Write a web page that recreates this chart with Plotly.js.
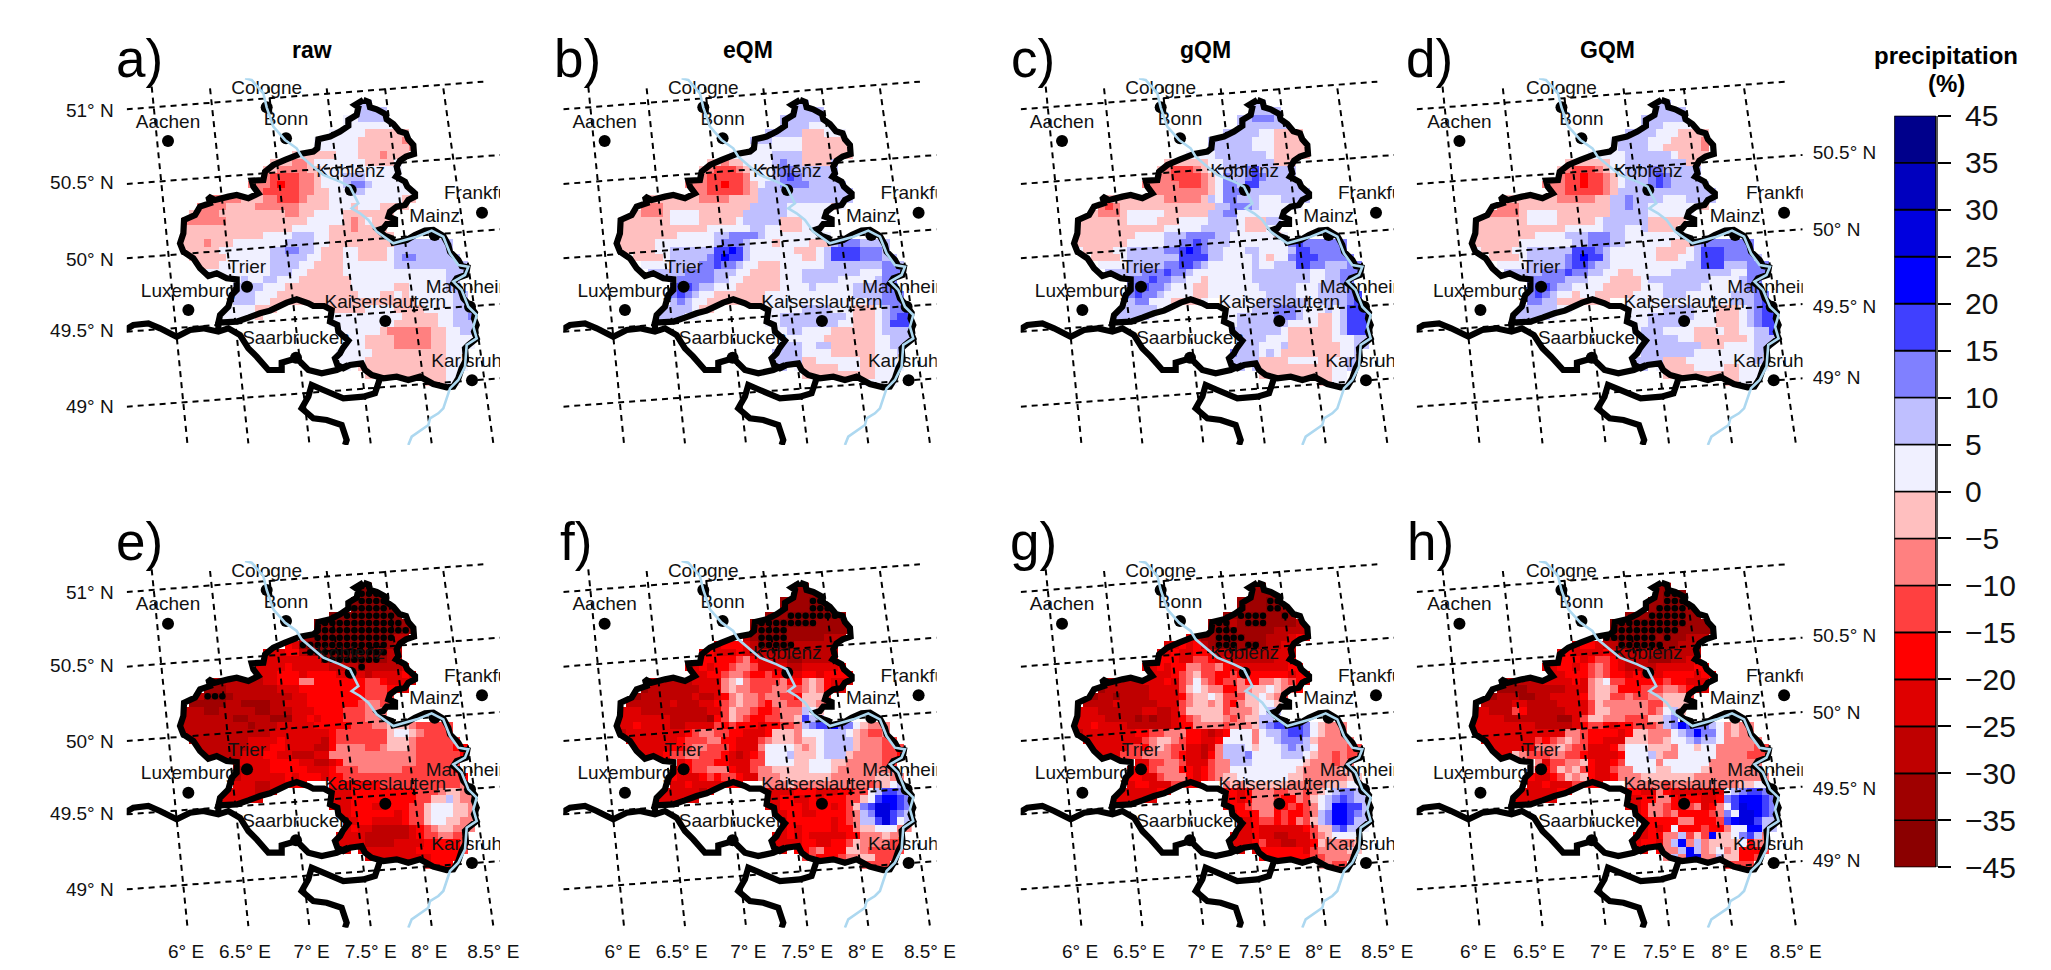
<!DOCTYPE html>
<html><head><meta charset="utf-8">
<script src="https://cdn.plot.ly/plotly-3.0.1.min.js"></script>
<style>html,body{margin:0;padding:0;background:#fff}</style></head>
<body><div id="chart" style="width:2051px;height:970px"></div>
<script>
// colour classes: change in precipitation (%)
const legendBreaks=[-45,-35,-30,-25,-20,-15,-10,-5,0,5,10,15,20,25,30,35,45];
const legendLabels=["−45","−35","−30","−25","−20","−15","−10","−5","0","5","10","15","20","25","30","35","45"];
const legendColors=["#8b0000","#9f0000","#bf0000","#df0000","#ff0000","#ff4040","#ff8080","#ffbfbf","#f0f0ff","#bfbfff","#8080ff","#4040ff","#0000ff","#0000df","#0000bf","#00008b"];
const classValues={t:-40,s:-32.5,r:-27.5,q:-22.5,p:-17.5,o:-12.5,n:-7.5,m:-2.5,a:2.5,b:7.5,c:12.5,d:17.5,e:22.5,f:27.5,g:32.5,h:40};
// class of each grid cell, upper case = significant (stippled)
const gridA=[
"..... ..... ..... ..... ....b bb","..... ..... ..... ..... ...bb bbb","..... ..... ..... ..... ..aab bbb","..... ..... ..... ..... .aaaa aaaa",
"..... ..... ..... ....a aaaaa mmmmm m","..... ..... ..... ...aa aaaam mmmmm nn","..... ..... ..... .aaaa aaaam mmmmm mn","..... ..... ....m mmmmm maaam mmnmm m",
"..... ..... ..mmm nnmaa aaaaa mmmma a","..... ..... .mmnn nnmma aaaaa aaaaa a","..... ....n nnooo onnma aabbb aaaaa a","..... ....n nnopo onnma aabcc baaaa aab",
"..... ..... noooo onnmm aaabb aaaaa aaa","....n nnnmm mnnoo onmmm aaaaa aaaaa mma","..nnn nmmmm nnnnn nmmmm aaama aammm mm",".mnnn mmmmm mmmmn nmmaa aammm mmmmm",
"nnnnn nmmmm mmmmm mmaaa aamnm ammmm","mmmmm mmmmm mmmmm aaaaa mmmnm mmmmm","mmmmm mmmmm maaaa bbbaa mmmmm mmmmm","mmmnm mmaaa aaaab bbbaa mmmmm mmmmb bbbbb bbb",
"mmmmm aaaaa aabbc cbbam mmaam mmmab bbbbb bbb",".mmmm maaaa aabbb bbaam mmaam mmmab ccbbb bbbb","..mmm aaaaa aabbb baamm mmaaa aaaab bbbbb bbbb","...aa aaaaa aabbb aammm mmaaa aaaaa aaaaa abbb",
"..... ..aba abbaa ammmm mmmaa aaaaa aaaaa abbb","..... ..bbb baaam mmmmm mmmaa aaaam maaaa abbbb","..... ..bbb aaamm mmmmm mmmma aamma maaaa aabbb","..... ..bbb aammm mmmmm mmmmm mmmmm mmaaa aabbb",
"..... .aaaa mmm.. ..... mmmmm aaaam mmmaa aabbb","..... aaaaa m.... ..... aaaaa aaaaa mmmmm aabbc","..... ....a ..... ..... aaaaa aaaam mmmmm aabbb","..... ..... ..... ..... .aaaa aamnn nnnnm maabb",
"..... ..... ..... ..... ..aaa mmmmn nnnnm maaaa","..... ..... ..... ..... ..aaa mmmmn nnnnm maaaa","..... ..... ..... ..... .aaaa ammmm mmmmm maaaa","..... ..... ..... ..... .aaaa mmmmm mmmmm maaaa",
"..... ..... ..... ..... .aaam mmmmm mmmmm maaa","..... ..... ..... ..... ..... mmmmm mmmmm maa","..... ..... ..... ..... ..... ..mmm mmmmm maa"];
const gridB=[
"..... ..... ..... ..... ....b bb","..... ..... ..... ..... ...bb bbb","..... ..... ..... ..... ..bbb bbbb","..... ..... ..... ..... .bbbb baaa",
"..... ..... ..... ....b bbbbb mmmaa a","..... ..... ..... ...bb baaaa mmmmm m","..... ..... ..... .bbaa aaaaa mmmmm mm","..... ..... ....a aaaaa abbbb mmmmm mm",
"..... ..... ..mmn mmaaa abcbb mmmmb b","..... ..... .mnoo onmaa abccb bbbbb b","..... ....n nnooo oonaa abcdc bbbbb bb","..... ....n nnoop oonma bbccc cbbbb bbb",
"..... ..... nnooo oonmb bbbbb bbbbb bbb","....m mmmmm mnnnn mmmmb bbbbb bbbbb bb","...nn nmmmm mmmmm mmmbb bbbaa aaaam a","..mnn nmaaa ammmm mmbbb bbbaa aaaaa",
"mmmmm mmaaa ammmm mabbb bbmmm aaaaa","mmmmm mmmmm mmaaa aaabb aammm aaaaa","mmmmm mmmaa aaabb ccccb aaaaa aaaaa","mmmmm aaaaa aaabc ccbaa amaaa ammmb cccbb bb",
"mmmmm aabbb bbbdd edbaa aaaam mmabd dddcc cbb","..mmm mabbb bbcde ddbaa aaaaa mmabd dddcc cbb","...aa aabbb bccdc cbaam mmaaa aaabb bbbbb bccb","....b bbbbc cccbb baamm mmaaa bbbbb bbbaa accc",
"..... ..bcc cccbb aammm mmaaa bbbbb aaaaa bccc","..... ..cdd cbbaa ammmm mmaaa abaaa aabbb bccc","..... ..cdc baamm mmmmm aaaaa aaaaa aabbb bcccd","..... ..bcb aammm mmmmm aaaaa aaaaa aaaab bcccd",
"..... .bbbb amm.. ..... aaaaa bbbba aammm abccd","..... bbbba a.... ..... aabbb bbbbb bammm abcdd","..... ....a ..... ..... aabbb bbbbb aammm abddd","..... ..... ..... ..... .aabb aaaam mmmmm abbbb",
"..... ..... ..... ..... ..aaa aaamm mmmmm aabbb","..... ..... ..... ..... ..bbb aabbm mmmmm aabb","..... ..... ..... ..... .bbbb aaaam mmmmm aaab","..... ..... ..... ..... .bbbb mmaaa aaamm aaaa",
"..... ..... ..... ..... .bbaa mmmmm aaamm aaaa","..... ..... ..... ..... ..... mmmmm mmmmm aaaa","..... ..... ..... ..... ..... ..mmm aaaaa aaa"];
const gridC=[
"..... ..... ..... ..... ....b bb","..... ..... ..... ..... ...bb bbb","..... ..... ..... ..... ..bbc ccbb","..... ..... ..... ..... .bbbb bbbb",
"..... ..... ..... ....b bbbbb aammm m","..... ..... ..... ...bb bbbba aammm mm","..... ..... ..... .aabb bbbba aammm mm","..... ..... ....a aaaab bbbbb bammm mm",
"..... ..... ..mmm mmmaa bbbbb bbmmm a","..... ..... .mnoo onmaa bbbcd bbbbb b","..... ....m nnnoo oonma cbbcd cbbbb b","..... ....n nnnno oonma ccbdd bbbbb bb",
"..... ..... nnnnn nnnma cccbb bbbbb bbb","....m mmmmm mmnnn nnmba ccbbb aaabb bb","...no nmmmm mmmmm mmmmb bcccb aaaaa aa","..mnn nmaaa aammm mmmbb ccaaa aaaaa",
"mmmmm mmaaa ammma aaabb bbamm mbbaa","mmmmm mmmmm mmaaa aabbb bbamm maaaa","mmmmm mmmaa aabbb ccccb baaaa aamaa","mmmmm mmaaa aabbc cdcbb baaaa aaaac dcccc cc",
"ammmm aabbb bbccd edcbb aaabb aaaab ddccc cccb","..mmm mabbb bbbbd dddbb aaaab amaac dddcc cccb","...aa aabbb bbccd dcbaa aaaab aabbb ddccb bbccc","....b bbbbc ccdcc baaaa aaaab bbbbb bbaab bccc",
"..... ..ccc dccbb aamaa aaaab bbbbb bbaab bccc","..... ..cdd ccbaa ammaa aaaaa bbbbb aaabb bbccd","..... ..cdc cbaaa ammaa aaaaa abbbb aaabb bbcdd","..... ..bcc aaamm mma.. aaaaa bbbbb bbabb bbcdd",
"..... .bbbb baa.. ..... aaaab bbccc baaab abddd","..... bbbbb a.... ..... aabbb bbccc baamm abddd","..... ....b ..... ..... .abbb bbbba aaamm abddd","..... ..... ..... ..... .bbbb bbbam mmmmm abddd",
"..... ..... ..... ..... ..bbb baaam mmmmm aaabb","..... ..... ..... ..... ..bbb aaabm mmmmm maabb","..... ..... ..... ..... .cbbb abamm mmmmm maab","..... ..... ..... ..... .bbbb mmmma aaamm aabb",
"..... ..... ..... ..... .bbbb mmmmm mmmmm aab","..... ..... ..... ..... ..... mmmmm mmmmm aa","..... ..... ..... ..... ..... ..mmm mmmmm aa"];
const gridD=[
"..... ..... ..... ..... ....b b","..... ..... ..... ..... ...bb bbb","..... ..... ..... ..... ..bbb bbbb","..... ..... ..... ..... .bbbb aaaa",
"..... ..... ..... ....b bbbba aammm m","..... ..... ..... ...ab bbbaa ammmm n","..... ..... ..... .aaab bbbaa mmmmm n","..... ..... ..... aaaaa bbbbb bammm m",
"..... ..... ..mmm mmmaa bbbbb bbbmm m","..... ..... .mnoo onmaa bbbcc bbbbb b","..... ....n nnoop oonma bbbcd cbbbb b","..... ....n nnoop oonma bbbcd cbbbb bb",
"..... ..... nnooo oonmb bbbbb bbbbb bbb","....m mmmmm mnnnn nmmbb cbbbb aaabb bb","...nn nmmmm mmmmm mmmbb cbbaa aaaaa mm","..nnn nmaaa ammmm mmmbb bbbaa aaaa",
"mmmmm mmaaa ammmm mabbb bbbmm mmm","mmmmm mmmmm mmaaa aabbb aabmm mm","mmmmm mmmaa aabbb cccbb aaaaa aaa","mmmmm maaaa aaabb cccbb aaaaa ammmb ccccc cc",
"ammmm aabbb bbbdd dcbaa aaaam mmmab dddcc ccb","..mmm mabbb bbcde ddbaa aaaam mmaab dddcc ccb","...aa aabbb bbcdd cbbaa aaaaa aaabb dddbb bccc","....b bbbbc ccdcc bbaam maaaa abbbb bbbba accc",
"..... ..ccc ccbbb aaamm mmabb bbbbb baaaa bccc","..... ..cdd cbbaa aammm mmaaa bbbbb aaaaa bccc","..... ..cdc baama ammmm maaaa bbbaa aaaab bbccd","..... ..ccb bmmmm mmm.. aaaaa aaaaa aaaab bbcdd",
"..... .bbbb baa.. ..... aaaaa bbbba aammm abcdd","..... bbbbb a.... ..... aaabb bbbba aammm abcdd","..... ....b ..... ..... .aabb bbbaa aammm abcdd","..... ..... ..... ..... .abbb aaaam mmamm aabbd",
"..... ..... ..... ..... ..bbb bbaam mmmmm mabbb","..... ..... ..... ..... ..bbb bbbbb mmmaa aabb","..... ..... ..... ..... .abbb bbbba aaaaa aabb","..... ..... ..... ..... .bbbb mmmaa aaaaa aabb",
"..... ..... ..... ..... .bbaa mmmma aaamm aaaa","..... ..... ..... ..... ..... mmmmm mmmmm aaa","..... ..... ..... ..... ..... ..mmm mmmmm aa"];
const gridE=[
"..... ..... ..... ..... ....T TT","..... ..... ..... ..... ....T TT","..... ..... ..... ..... ...tT TTTt","..... ..... ..... ..... ...TT TTTt",
"..... ..... ..... ....t ttTTT TTTTt","..... ..... ..... ...TT TTTTT TTTTT s","..... ..... ..... ...TT TTTTT TTTTT Ts","..... ..... ..... .ssTT TTTTT TTTTr r",
"..... ..... ....p qTTTT TTTTT TTTsr","..... ..... .qqqp prTTT TTTTT TTTrr","..... ....q qqqqq qqqqT TTTTT TSsrr","..... ..... qqqqp qqqqq rrrrT rrrrr qqp",
"..... ..... qqqpp pqppp pqqqq rqqqq pqq","....r rrrrr rqqpp pnnpp ppppp oopqq qq","...ss srrrr rrrqq qpppp ppppp ooopp qq","..rTT Tsrrr rrrrr qqppp ppppp oooop",
".ssss srrss ssrrq qqppp ppppo nnooo","rrrss rrrrr ssrrr qqqpp ppooo nnn","rrrrr rrssr rrsss qqpqp ppooo nnn","rrrrr rrrrs rrrqq qqqpp pppoo onnmm mnooo ooo",
"rrrrr rrrrr rrqqq qqqqq poooo oooma amnoo ooo",".rrrr rrrrq qqqpq qqqqr poooo ooomm mnooo ooo","..rrr rrrrq qqppq qqqrr pnnnn oonmm mnooo oopp","...rr rrrqq qppqq rrrqq nnnnn nnnnn nnooo ooop",
"..... ..qqq qqppp pqqrr qpnnn nnnnn nnooo ooop","..... ..rqq qqppp ppqqq pooon nnnnn ooooo oop","..... ..rqq qqqqp qpppq ppooo ooooo ooooo ooop","..... ..qqq rrqqp pp... ppppp ppooo ooooo ooon",
"..... .qqqq rrq.. ..... qqqpp ppppp ppooo nmmnn","..... qqqqq q.... ..... qqqpp ppppp ppoom mbmnn","..... ....q ..... ..... qqqpp pqqpp pooma aammn","..... ..... ..... ..... .qqpp ppppq pooma aammn",
"..... ..... ..... ..... ..qqp pqqqq pooma ammnn","..... ..... ..... ..... ..qpq qrrrr rqpon mmnnn","..... ..... ..... ..... .qqqq rrrrr rqpoo nnoo","..... ..... ..... ..... .qqqq rrrrq qqqpp pppo",
"..... ..... ..... ..... .qqqq qqqqq qqppp pppo","..... ..... ..... ..... ..... qqqqq qqqqp ppp","..... ..... ..... ..... ..... ..qqq qqqqp pp"];
const gridF=[
"..... ..... ..... ..... ....s ss","..... ..... ..... ..... ...ss ss","..... ..... ..... ..... ..sss sTTs","..... ..... ..... ..... .ssss sTTTs",
"..... ..... ..... ..... sssTT TTTTT s","..... ..... ..... ...sT TTTTT TTsss ss","..... ..... ..... ...sT TTTss sssss ss","..... ..... ..... ..rsT TTTss sssrr r",
"..... ..... ...qp ppqrT TTTTr rrrrs s","..... ..... .qpqq qpqrr rrrrr rrrrr q","..... ....q qpppp ponpq qrrss rrrrq q","..... ....q qpqpp onnoq qqqrr qqqqq pp",
"..... ..... qqppo nnopp oppqq ppqpp pp","....r rrrrr qqqqn manoo oonpp nmnpq qq","...sr rrrrr rqqqn mnnoo onnoo nmnpq q","..srr rrrrr qrrqp nmnno nnoop mmmoo",
".rrrr rrqrr rqqpo nmnno pnnoo mmno","qqqrr rrrrr rrqqo mnnop ponnn bam","qqqqq qqrrr rrspo mnopp oonnm dbb","qqpqq qqrrq qqqop opppq ppoon bcdde ccamn nnn",
"rqqqq qqqqp onnoo ppqqq pmmmn aaabb bamno onn",".qqqq qqqpo oonnp pqqqo nmmmn mmabb bbmnn noo","..qqq qqppo nnooo pqqqn aaaam nmabb bbmnn nooo","...qq qpoon nooop qrqpo aaabm mmabb bmnnn noop",
"..... ...qp ooopp qqqoo aaaam maaam mnnnn noop","..... ..qqp oonnn pqqon nmmmm maaam nnnnn nnn","..... ..pqq qpopo opqqn nnmmm mmmmn nnnnn mmnn","..... ..qqp qqqqp pp... nnnmn nnnnn nnnno nmabb",
"..... .qqqq qrp.. ..... qqqqp ppqqq ppooa bddcb","..... qqqqq q.... ..... qqppq qpqpp pooma deedc","..... ....q ..... ..... qqppp qpppq pomcd ffedc","..... ..... ..... ..... .qqpp qqppp ponbc ffdcb",
"..... ..... ..... ..... ..qpp ppppq ponbb dfdab","..... ..... ..... ..... ..qpq ppppq ppnmm aaann","..... ..... ..... ..... .qqpq pqqqq qppnn nmnn","..... ..... ..... ..... .qqqq ppqqp pomnn nnoo",
"..... ..... ..... ..... .qqqp ponpp pmmno oooo","..... ..... ..... ..... ..... ooppp onnmm ooo","..... ..... ..... ..... ..... ..opo mnnoo oo"];
const gridG=[
"..... ..... ..... ..... ....s ss","..... ..... ..... ..... ...ss ss","..... ..... ..... ..... ..sss sTTs","..... ..... ..... ..... .ssss sTTs",
"..... ..... ..... ....s ssTTT Tss Ts","..... ..... ..... ...sT TrsTT Tssss rr","..... ..... ..... .qrsT TTsss ssrrr rr","..... ..... ....q qrssT TTTss srrrq pq",
"..... ..... ..qqp qprsT TTsTT srrqq q","..... ..... .qqpq qppqr rrrrr rrqqr q","..... ....q qpppq qoopq qrrrr rrqqp p","..... ....q qpqpp nnoon pqqqq qqqqp pp",
"..... ..... qqqpo nmoop poppp ppppq pp","....r rrrrq qqpqo nanop oonpp nnmno pq","...sr rrrrr qqqqo mamnn ppnnm mamnn pq","..srr srrrr qqqqp nmmam ooomm amnoo",
".rrrr qrrrr rqqqo nmmnm opnmm aam","qqqrr rrrrq qrrqo mmmmm onnnm abb","qqqqr rrrsr srrqp onmmm nonmm bb","qqpqq qqrrr rrrqp pnnnn onnnm bcddd dcamn nnn",
"rqqqq qqqpp oonnn ppqrq paaan abbcd dcamn nnn",".qqqq qqqqo nmmno ppqqp aaaan aabcc cbmnn nnn","..qqq qqoop nmnoo qqrqn bbbam aaabc bbann nnoo","...qq qooon nnnop qqrpn bbbca aaabb bamnn onoo",
"..... ...qq oonno qqqon nbbba aaaaa amnnn onn","..... ..qpp onnnp pqpon naaaa aaaaa mnnnn nmm","..... ..ppq qonnn pqpon mmaaa aaaam mnnnn nnmm","..... ..qpp qqqoo pp... nmnmm mmmmn nnnnm mmaab",
"..... .qqqq qpp.. ..... ppqpn nnoon nonma bccbb","..... qqqqq q.... ..... qpqpn nnopp nomab cdcbb","..... ....q ..... ..... qppon nnppo ponab eeddb","..... ..... ..... ..... .qppp nnpop ponbc eedcb",
"..... ..... ..... ..... ..qqp oopop nombc eedbb","..... ..... ..... ..... ..qqp qqqqq qpomm cdbba","..... ..... ..... ..... .qqqp qqrrq qqonm aaaan","..... ..... ..... ..... .qqqp oqqrr qqpmn nnnm",
"..... ..... ..... ..... .qqqq ppppp pqonn nnmm","..... ..... ..... ..... ..... ppppp ppoon nnn","..... ..... ..... ..... ..... ..ppp ooonn oo"];
const gridH=[
"..... ..... ..... ..... ....s s","..... ..... ..... ..... ....s TTTs","..... ..... ..... ..... ...ss TTTs","..... ..... ..... ..... ...sT TTTs",
"..... ..... ..... ....s sssTT TTTss","..... ..... ..... ...TT TTTTT TTTss ss","..... ..... ..... ...TT TTTTT TTsss ss","..... ..... ..... ..TTT TTTTs Tssrr r",
"..... ..... ...qp pqrrT TTTTT ssrrr r","..... ..... .qpqq qqpqr rrrrs srrrr r","..... ....q qpppq poopq rrrss srrqq q","..... ....q qppqp onopq rrrrq qqqqp pp",
"..... ..... qqppp onopp qpqqq ppppq pp","....r rrrrq qqqpq nmaoo ppppp oppqq q","...ss ssrrr rrqqq nmmnp ppooo nnopq q","..srr rssrr qqqqp nmmoo noonn mmmoo",
".rrrr qqrrr rqqqq omnnn nnnoo mmmm","qqrrr oprrr rrqqq ommnn nnnon abm","qqqqr rrrrr rssqo mmnnn ooomm bc","qqqqq qqqrr rrrqp oopqp pooon bcedc cbanm nnn",
"qqqqq qqqqq qqnno ppppq pmmnn nabce ccanm nnn",".qqqq qqqop onmno ppqqq mmmnn maabc bbann nnn","..qqq qqqnn nmnoo qqqpn aaamm mnaam aannn nnoo","...qq mnooo nnoop qqqqp aaabm nnaaa aannn nooo",
"..... ...nq oonnm pqqpo aaaan aaaaa annnn nnn","..... ..mpp omnmo pqqon naaam maaaa mnnnn nnn","..... ..pqq pomnm pqqpn nnmmm mmmmn nnnnn nnnn","..... ..qqp qqqoo pp... nnnnn onnnn nnnnn mmaab",
"..... .qqqq qpp.. ..... ppqqn pqqqq qqqab cddcb","..... qqqqq q.... ..... qqppn npqpp qqpcd eeedc","..... ....q ..... ..... qqpnn opqon qpnad feedc","..... ..... ..... ..... .qpnn onppp ponca ffedc",
"..... ..... ..... ..... ..qpp ppnnp ppode ffdbb","..... ..... ..... ..... ..qpq pappp oppna aeebb","..... ..... ..... ..... .qqpp nnbom oemma cdbnn","..... ..... ..... ..... .qppq nbenb nmmmm apnn",
"..... ..... ..... ..... .qqqp nnbeb nmanm pppo","..... ..... ..... ..... ..... nbnef nnbmm ppo","..... ..... ..... ..... ..... ..nma mmnpo oo"];
const panelGrids=[gridA,gridB,gridC,gridD,gridE,gridF,gridG,gridH];
const panelLetters=["a)","b)","c)","d)","e)","f)","g)","h)"];
const panelTitles=["raw","eQM","gQM","GQM"];
// map grid coordinates of the features
const stateX=[790,806,810,830,856,860,880,898,918,925,940,942,918,900,890,895,888,915,922,945,945,925,915,890,870,865,885,885,860,850,835,855,875,880,920,945,975,1000,1030,1045,1050,1075,1085,1102,1098,1070,1060,1080,1090,1108,1125,1122,1130,1122,1130,1105,1095,1098,1085,1075,1060,1040,1000,960,925,890,850,815,795,785,750,730,712,705,720,728,745,715,712,690,695,672,640,625,590,560,535,510,480,445,410,355,360,385,395,410,410,380,350,325,300,280,250,240,250,252,285,300,330,325,345,385,410,445,475,460,455,490,495,520,555,600,640,652,655,690,720,745,745,770,775,765,790];
const stateY=[240,246,262,268,282,298,312,334,340,358,375,402,410,422,440,460,470,485,500,520,530,540,555,560,575,590,598,612,612,625,630,648,655,668,660,645,632,630,648,675,695,720,738,742,765,775,790,805,835,855,878,895,915,935,955,975,985,1020,1045,1075,1100,1102,1092,1070,1080,1070,1075,1065,1050,1030,1035,1045,1035,1015,1000,985,962,935,915,905,870,858,858,850,838,848,860,872,880,893,905,908,885,860,825,810,778,775,760,768,745,715,695,670,640,600,585,560,550,530,540,530,525,535,520,500,482,480,455,435,420,402,395,385,358,350,335,318,300,285,262,255,240];
const otherX=[75,100,145,180,230,270,310,355,385,420,445,470,505,545,545,590,625,665,710,745,null,355,355,null,840,825,790,730,670,635,625,605,640,680,725,740,735];
const otherY=[930,915,910,925,950,930,925,935,925,945,985,1010,1050,1050,1028,1015,1050,1060,1050,1035,null,935,905,null,1075,1120,1130,1135,1110,1095,1130,1165,1195,1200,1215,1260,1275];
const riverX=[435,455,490,500,520,555,590,605,640,670,720,750,775,755,780,805,830,880,950,995,1030,1050,1075,1105,1095,1060,1085,1105,1130,1120,1130,1100,1095,1075,1050,1030,1015,990,985,935,925];
const riverY=[175,180,220,262,320,360,385,410,440,465,485,500,550,565,580,600,635,670,650,632,650,700,735,740,765,785,810,860,885,920,955,975,1040,1080,1105,1165,1180,1195,1215,1250,1275];
const cityNames=["Cologne","Aachen","Bonn","Koblenz","Frankfurt","Mainz","Trier","Luxemburg","Mannheim","Kaiserslautern","Saarbrucken","Karlsruhe"];
const cityX=[500,204,558,752,1146,1004,441,265,1110,856,588,1116];
const cityY=[262,363,355,510,578,645,800,870,860,903,1013,1081];
const meridianX=[155,262,null,330,445,null,505,628,null,680,812,null,855,995,null,1030,1180];
const meridianY=[200,1270,null,205,1270,null,200,1270,null,205,1270,null,205,1270,null,205,1270];
const parallelX=[80,1150,null,80,1200,null,80,1200,null,80,1200,null,80,1200];
const parallelY=[268,185,null,492,405,null,715,628,null,935,852,null,1160,1075];
const leftTickV=[270,488,717,932,1160], leftTickT=["51° N","50.5° N","50° N","49.5° N","49° N"];
const rightTickV=[397,628,858,1072], rightTickT=["50.5° N","50° N","49.5° N","49° N"];
const bottomTickV=[258,435,635,812,988,1180], bottomTickT=["6° E","6.5° E","7° E","7.5° E","8° E","8.5° E"];
const nCols=40,cell=22,u0=246,v0=240;

const W=2051,H=970,FONT='"Liberation Sans",Arial,sans-serif';
const panelLeft=[126.7,563.3,1020.7,1416.7], panelWidth=[373.3,373.3,373.3,386];
const panelTop=[78.3,561];const panelHeight=366.7;
const gridU=[...Array(nCols).keys()].map(i=>u0+cell*(i+.5));
function inside(x,y){let c=false;for(let i=0,j=stateX.length-1;i<stateX.length;j=i++){
  if((stateY[i]>y)!==(stateY[j]>y)&&x<(stateX[j]-stateX[i])*(y-stateY[i])/(stateY[j]-stateY[i])+stateX[i])c=!c;}return c;}
function inMask(x,y){return [[0,0],[6,6],[-6,6],[6,-6],[-6,-6]].some(d=>inside(x+d[0],y+d[1]));}
const colorscale=[];legendColors.forEach((c,i)=>{colorscale.push([(legendBreaks[i]+45)/90,c],[(legendBreaks[i+1]+45)/90,c]);});

const traces=[],layout={width:W,height:H,margin:{l:0,r:0,t:0,b:0},paper_bgcolor:'#fff',plot_bgcolor:'rgba(0,0,0,0)',showlegend:false,annotations:[],font:{family:FONT,color:'#000'}};
const line=(x,y,xa,ya,color,width,dash)=>({type:'scatter',mode:'lines',x,y,xaxis:xa,yaxis:ya,line:{color,width,dash,simplify:false},hoverinfo:'skip',connectgaps:false});
panelGrids.forEach((g,p)=>{
  const col=p%4,row=p<4?0:1,n=p+1,xa='x'+(n>1?n:''),ya='y'+(n>1?n:'');
  const z=[],gridV=[],sx=[],sy=[];
  g.forEach((s,j)=>{const r=s.replace(/ /g,''),v=v0+cell*(j+.5);gridV.push(v);
    z.push(gridU.map((u,i)=>{const ch=r[i];if(!ch||ch==='.'||!inMask(u,v))return null;
      if(ch!==ch.toLowerCase()&&inside(u,v)){sx.push(u);sy.push(v);}
      return classValues[ch.toLowerCase()];}));});
  traces.push({type:'heatmap',x:gridU,y:gridV,z,xaxis:xa,yaxis:ya,zmin:-45,zmax:45,colorscale,showscale:false,hoverinfo:'skip',zsmooth:false});
  traces.push({type:'scatter',mode:'markers',x:sx,y:sy,xaxis:xa,yaxis:ya,marker:{color:'#000',size:6.5},hoverinfo:'skip'});
  traces.push(line(meridianX,meridianY,xa,ya,'#000',2,'6px,5px'));
  traces.push(line(parallelX,parallelY,xa,ya,'#000',2,'6px,5px'));
  traces.push({type:'scatter',mode:'markers+text',x:cityX,y:cityY,text:cityNames,textposition:'top center',cliponaxis:true,xaxis:xa,yaxis:ya,
    marker:{color:'#000',size:12},textfont:{family:FONT,size:19,color:'#111'},hoverinfo:'skip'});
  traces.push(line(stateX,stateY,xa,ya,'#000',6.2));
  traces.push(line(otherX,otherY,xa,ya,'#000',6.2));
  traces.push(line(riverX,riverY,xa,ya,'#add8f0',2.6));
  const xAxis={domain:[panelLeft[col]/W,(panelLeft[col]+panelWidth[col])/W],range:[80,1200],anchor:ya,showgrid:false,zeroline:false,showline:false,ticks:'',fixedrange:true,showticklabels:false};
  const yAxis={domain:[1-(panelTop[row]+panelHeight)/H,1-panelTop[row]/H],range:[1275,175],anchor:xa,showgrid:false,zeroline:false,showline:false,ticks:'',fixedrange:true,showticklabels:false};
  if(row===1)Object.assign(xAxis,{showticklabels:true,tickmode:'array',tickvals:bottomTickV,ticktext:bottomTickT,tickfont:{size:19,family:FONT,color:'#111'},tickangle:0,ticklabelstandoff:10});
  if(col===0)Object.assign(yAxis,{showticklabels:true,tickmode:'array',tickvals:leftTickV,ticktext:leftTickT,tickfont:{size:19,family:FONT,color:'#111'},ticklabelstandoff:12});
  if(col===3)Object.assign(yAxis,{side:'right',showticklabels:true,tickmode:'array',tickvals:rightTickV,ticktext:rightTickT,tickfont:{size:19,family:FONT,color:'#111'},ticklabelstandoff:9});
  layout['xaxis'+(n>1?n:'')]=xAxis;layout['yaxis'+(n>1?n:'')]=yAxis;
});
// legend as a stacked bar of the colour classes
const nLeg=legendColors.length;
traces.push({type:'bar',x:legendColors.map(()=>0),y:legendColors.map(()=>1),base:legendColors.map((c,i)=>i),width:1,xaxis:'x9',yaxis:'y9',
  marker:{color:legendColors,line:{color:'#000',width:1.6}},hoverinfo:'skip'});
layout.xaxis9={domain:[1894.3/W,1936/W],range:[-.5,.5],anchor:'y9',showgrid:false,zeroline:false,showticklabels:false,ticks:'',fixedrange:true};
layout.yaxis9={domain:[1-867.3/H,1-115.7/H],range:[0,nLeg],anchor:'x9',side:'right',showgrid:false,zeroline:false,tickmode:'array',
  tickvals:legendBreaks.map((b,i)=>i),ticktext:legendLabels,ticks:'outside',ticklen:13,tickwidth:2,tickcolor:'#000',tickfont:{size:30,family:FONT,color:'#111'},
  showline:true,linecolor:'#555',linewidth:2,fixedrange:true,ticklabelstandoff:8};
const note=(text,x,y,size,bold,xanchor)=>layout.annotations.push({xref:'paper',yref:'paper',x:x/W,y:1-y/H,text:bold?'<b>'+text+'</b>':text,showarrow:false,
  font:{family:FONT,size,color:'#000'},xanchor:xanchor||'center',yanchor:'middle',borderpad:0});
const letterX=[115,553,1010,1405,115,559,1009,1406],letterY=[58,58,58,58,541,541,541,541];
panelLetters.forEach((t,i)=>note(t,letterX[i],letterY[i],53,false,'left'));
const titleX=[311.7,748,1205,1607];
panelTitles.forEach((t,i)=>note(t,titleX[i],50,23,true));
note('precipitation',1946,55,24,true);note('(%)',1946,83,24,true);
Plotly.newPlot('chart',traces,layout,{displayModeBar:false,staticPlot:true});
</script></body></html>
